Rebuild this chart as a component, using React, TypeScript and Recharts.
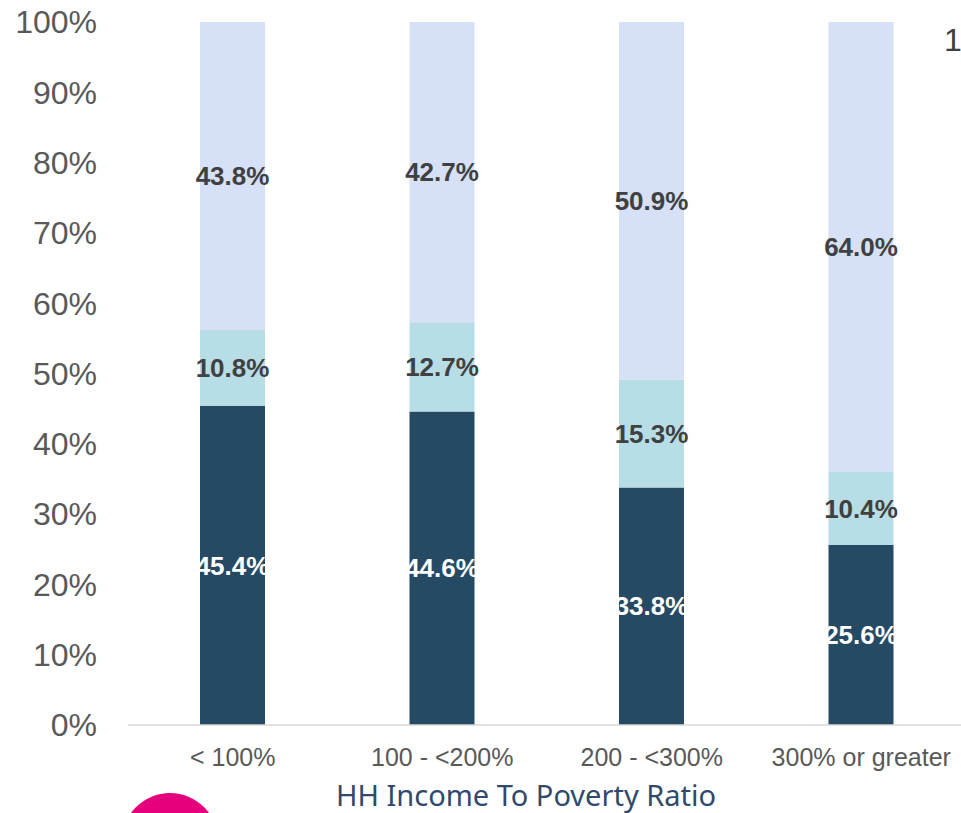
import React from 'react';
import { BarChart, Bar, XAxis, YAxis, LabelList, Label } from 'recharts';

const categories = ['< 100%', '100 - <200%', '200 - <300%', '300% or greater'];
const lowerSeries = [45.4, 44.6, 33.8, 25.6];
const middleSeries = [10.8, 12.7, 15.3, 10.4];
const upperSeries = [43.8, 42.7, 50.9, 64.0];
const yTicks = [0, 10, 20, 30, 40, 50, 60, 70, 80, 90, 100];

const data = categories.map((c, i) => ({
  cat: c,
  lower: lowerSeries[i],
  middle: middleSeries[i],
  upper: upperSeries[i],
}));

const FONT = '"Liberation Sans", Arial, sans-serif';
const fmt = (v: any) => `${Number(v).toFixed(1)}%`;

export default function App() {
  return (
    <div style={{ position: 'absolute', left: 0, top: 0, width: 961, height: 813, overflow: 'hidden', background: '#fff' }}>
      <BarChart
        width={966}
        height={813}
        data={data}
        margin={{ top: 22, right: 0, bottom: 0, left: 0 }}
        barSize={65}
      >
        <XAxis
          dataKey="cat"
          height={88}
          axisLine={{ stroke: '#d9d9d9', strokeWidth: 1.5 }}
          tickLine={false}
          tickSize={0}
          tickMargin={23}
          tick={{ fontSize: 25, fill: '#595959', fontFamily: FONT }}
          interval={0}
        >
          <Label
            value="HH Income To Poverty Ratio"
            position="insideBottom"
            offset={7}
            dx={-21}
            style={{ fontSize: 29, fill: '#2f4a6d', fontFamily: '"Noto Sans", sans-serif' }}
          />
        </XAxis>
        <YAxis
          width={128}
          domain={[0, 100]}
          ticks={yTicks}
          interval={0}
          axisLine={false}
          tickLine={false}
          tickSize={0}
          tickMargin={31}
          tickFormatter={(v) => `${v}%`}
          tick={{ fontSize: 32, fill: '#595959', fontFamily: FONT }}
        />
        <Bar dataKey="lower" stackId="s" fill="#264a64" isAnimationActive={false}>
          <LabelList dataKey="lower" position="center" formatter={fmt} fill="#ffffff" fontSize={26} fontWeight="bold" fontFamily={FONT} />
        </Bar>
        <Bar dataKey="middle" stackId="s" fill="#b7dde7" isAnimationActive={false}>
          <LabelList dataKey="middle" position="center" formatter={fmt} fill="#404040" fontSize={26} fontWeight="bold" fontFamily={FONT} />
        </Bar>
        <Bar dataKey="upper" stackId="s" fill="#d6e0f6" isAnimationActive={false}>
          <LabelList dataKey="upper" position="center" formatter={fmt} fill="#404040" fontSize={26} fontWeight="bold" fontFamily={FONT} />
        </Bar>
      </BarChart>
      <div style={{ position: 'absolute', left: 944, top: 24, fontSize: 32, color: '#404040', fontFamily: FONT, lineHeight: '32px' }}>1</div>
      <div style={{ position: 'absolute', left: 122, top: 793, width: 96, height: 96, borderRadius: '50%', background: '#e5007e' }} />
    </div>
  );
}
